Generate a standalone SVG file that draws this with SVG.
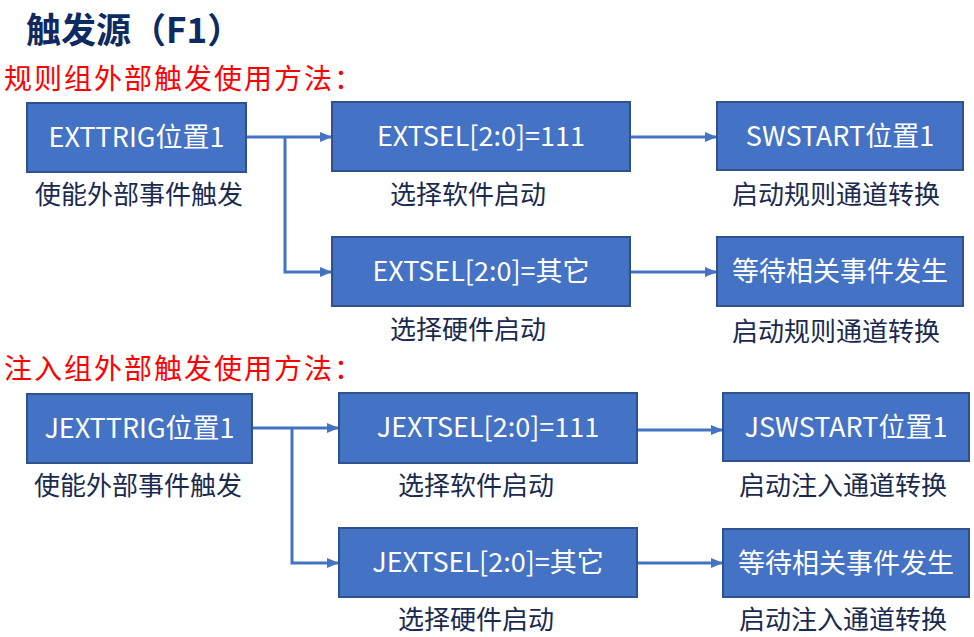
<svg xmlns="http://www.w3.org/2000/svg" width="974" height="637" viewBox="0 0 974 637">
<style>
.box{fill:#4472C4;stroke:#2F528F;stroke-width:2}
.bt{font-family:"Noto Sans CJK SC","Noto Sans",sans-serif;font-size:27px;fill:#ffffff;text-anchor:middle}
.lb{font-family:"Noto Sans CJK SC","Noto Sans",sans-serif;font-size:26px;fill:#1a2a4f;text-anchor:middle}
.red{font-family:"Noto Sans CJK SC","Noto Sans",sans-serif;font-size:28px;fill:#ff0000}
.title{font-family:"Noto Sans CJK SC","Noto Sans",sans-serif;font-size:35px;font-weight:bold;fill:#0d2a63}
.ln{fill:none;stroke:#4472C4;stroke-width:3}
</style>
<defs>
<marker id="ah" markerUnits="userSpaceOnUse" markerWidth="12" markerHeight="12" viewBox="0 0 12 12" refX="12" refY="6" orient="auto">
<path d="M0,1 L12,6 L0,11 Z" fill="#4472C4"/>
</marker>
</defs>
<text class="title" x="26" y="43">触发源（F1）</text>
<text class="red" x="4" y="89" textLength="358">规则组外部触发使用方法：</text>
<text class="red" x="4" y="379" textLength="358">注入组外部触发使用方法：</text>

<g id="connectors">
<path class="ln" d="M246,137 H332" marker-end="url(#ah)"/>
<path class="ln" d="M285,137 V272 H332" marker-end="url(#ah)"/>
<path class="ln" d="M630,137 H717" marker-end="url(#ah)"/>
<path class="ln" d="M630,272 H717" marker-end="url(#ah)"/>
<path class="ln" d="M252,428 H339" marker-end="url(#ah)"/>
<path class="ln" d="M292,428 V563 H339" marker-end="url(#ah)"/>
<path class="ln" d="M637,430 H723" marker-end="url(#ah)"/>
<path class="ln" d="M637,563 H723" marker-end="url(#ah)"/>
</g>

<g id="n1">
<rect class="box" x="27" y="103" width="219" height="69"/>
<text class="bt" x="136.5" y="147">EXTTRIG位置1</text>
<text class="lb" x="139" y="204">使能外部事件触发</text>
</g>
<g id="n2">
<rect class="box" x="332" y="102" width="298" height="69"/>
<text class="bt" x="481" y="146">EXTSEL[2:0]=111</text>
<text class="lb" x="468" y="204">选择软件启动</text>
</g>
<g id="n3">
<rect class="box" x="717" y="102" width="246" height="68"/>
<text class="bt" x="840" y="146">SWSTART位置1</text>
<text class="lb" x="836" y="204">启动规则通道转换</text>
</g>
<g id="n4">
<rect class="box" x="332" y="237" width="298" height="69"/>
<text class="bt" x="481" y="281">EXTSEL[2:0]=其它</text>
<text class="lb" x="468" y="339">选择硬件启动</text>
</g>
<g id="n5">
<rect class="box" x="717" y="237" width="246" height="69"/>
<text class="bt" x="840" y="281">等待相关事件发生</text>
<text class="lb" x="836" y="341">启动规则通道转换</text>
</g>

<g id="m1">
<rect class="box" x="27" y="394" width="225" height="69"/>
<text class="bt" x="139.5" y="438">JEXTTRIG位置1</text>
<text class="lb" x="138" y="495">使能外部事件触发</text>
</g>
<g id="m2">
<rect class="box" x="339" y="393" width="298" height="70"/>
<text class="bt" x="488" y="437">JEXTSEL[2:0]=111</text>
<text class="lb" x="476" y="495">选择软件启动</text>
</g>
<g id="m3">
<rect class="box" x="723" y="393" width="246" height="68"/>
<text class="bt" x="846" y="437">JSWSTART位置1</text>
<text class="lb" x="843" y="495">启动注入通道转换</text>
</g>
<g id="m4">
<rect class="box" x="339" y="528" width="298" height="69"/>
<text class="bt" x="488" y="572">JEXTSEL[2:0]=其它</text>
<text class="lb" x="476" y="629">选择硬件启动</text>
</g>
<g id="m5">
<rect class="box" x="723" y="529" width="246" height="68"/>
<text class="bt" x="846" y="573">等待相关事件发生</text>
<text class="lb" x="843" y="629">启动注入通道转换</text>
</g>
</svg>
